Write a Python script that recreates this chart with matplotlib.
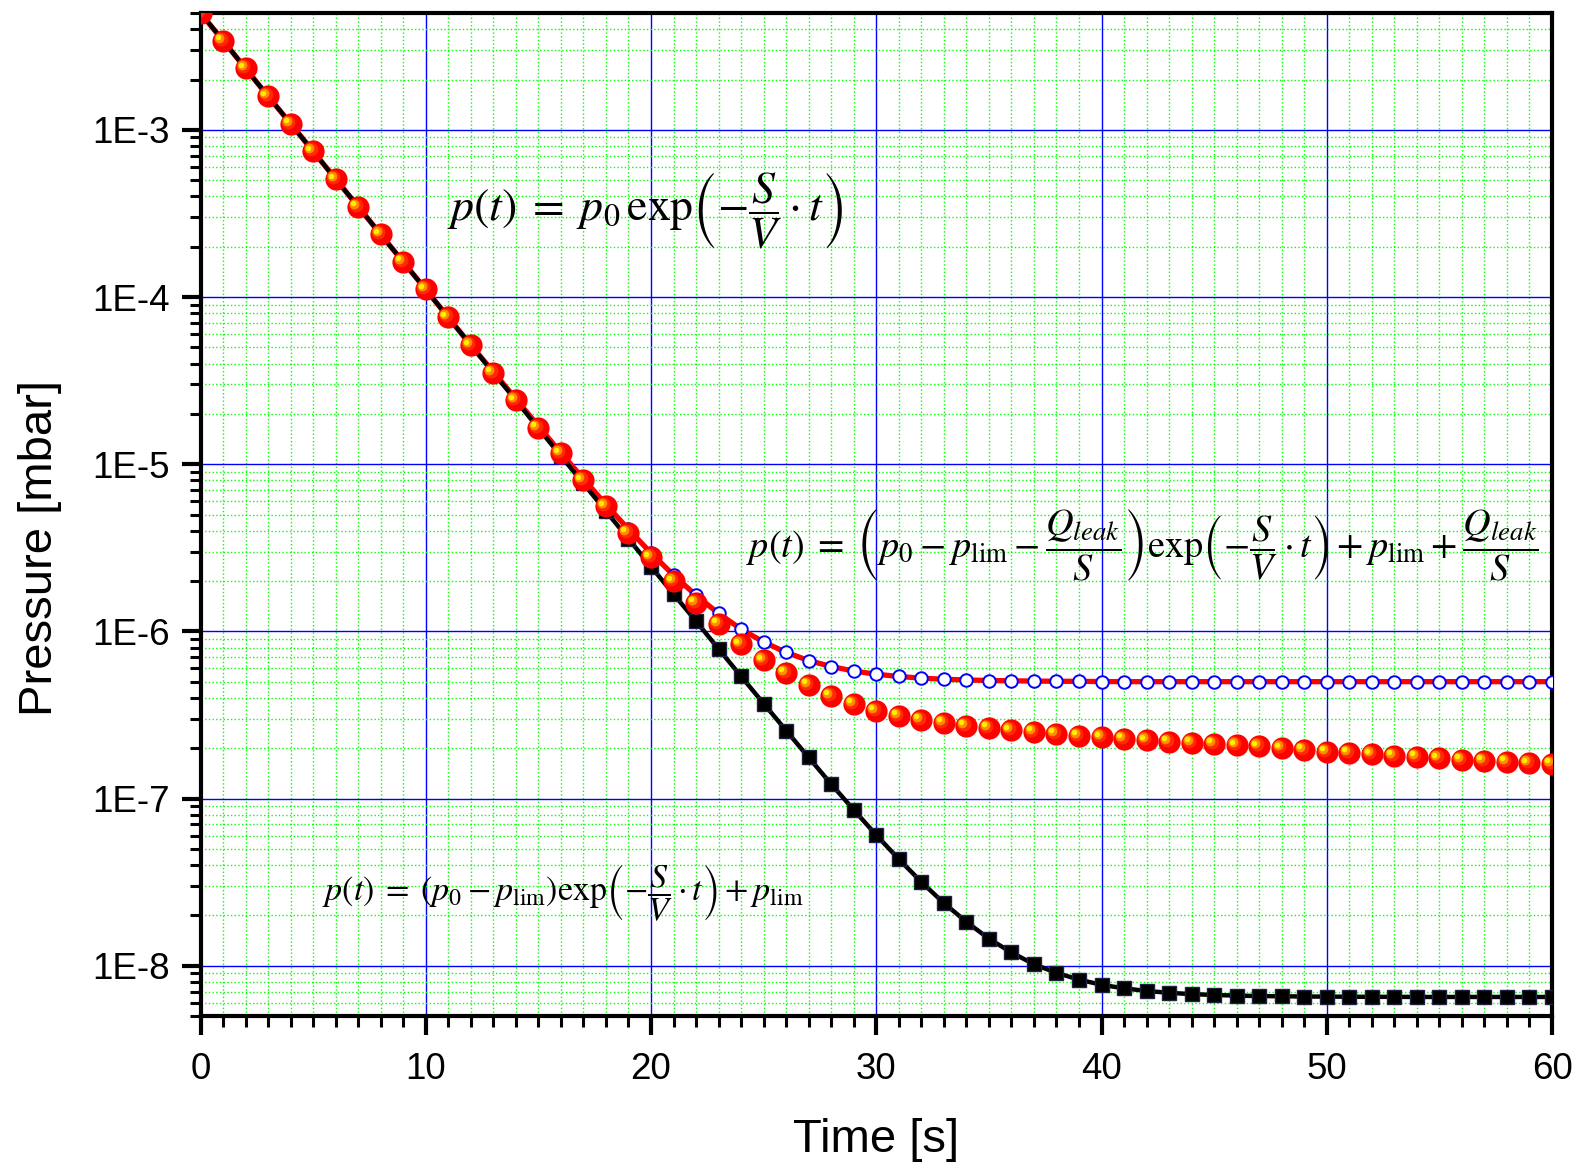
import numpy as np
import matplotlib
matplotlib.use('Agg')
import matplotlib.pyplot as plt
from matplotlib import ticker, transforms

plt.rcParams['font.family'] = ['Liberation Sans', 'DejaVu Sans']
plt.rcParams['mathtext.fontset'] = 'stix'

# tempo [s], um ponto por segundo
tempo = list(range(61))

# p0 exp(-S/V t) + p_lim  (quadrados pretos)
p_lim = [5.0e-3, 3.42e-3, 2.33e-3, 1.59e-3, 1.09e-3, 7.44e-4, 5.08e-4, 3.47e-4, 2.37e-4, 1.62e-4,
         1.11e-4, 7.55e-5, 5.16e-5, 3.52e-5, 2.41e-5, 1.64e-5, 1.12e-5, 7.67e-6, 5.23e-6, 3.58e-6,
         2.44e-6, 1.67e-6, 1.15e-6, 7.85e-7, 5.38e-7, 3.70e-7, 2.55e-7, 1.76e-7, 1.22e-7, 8.55e-8,
         6.05e-8, 4.34e-8, 3.17e-8, 2.37e-8, 1.83e-8, 1.45e-8, 1.20e-8, 1.02e-8, 9.06e-9, 8.25e-9,
         7.69e-9, 7.32e-9, 7.06e-9, 6.88e-9, 6.76e-9, 6.68e-9, 6.62e-9, 6.58e-9, 6.56e-9, 6.54e-9,
         6.53e-9, 6.52e-9, 6.51e-9, 6.51e-9, 6.50e-9, 6.50e-9, 6.50e-9, 6.50e-9, 6.50e-9, 6.50e-9,
         6.50e-9]

# com vazamento (circulos abertos + linha vermelha)
p_leak = [5.0e-3, 3.42e-3, 2.33e-3, 1.59e-3, 1.09e-3, 7.44e-4, 5.08e-4, 3.47e-4, 2.37e-4, 1.62e-4,
          1.11e-4, 7.55e-5, 5.16e-5, 3.57e-5, 2.46e-5, 1.69e-5, 1.17e-5, 8.17e-6, 5.73e-6, 4.08e-6,
          2.94e-6, 2.17e-6, 1.64e-6, 1.28e-6, 1.03e-6, 8.63e-7, 7.48e-7, 6.69e-7, 6.16e-7, 5.79e-7,
          5.54e-7, 5.37e-7, 5.25e-7, 5.17e-7, 5.12e-7, 5.08e-7, 5.06e-7, 5.04e-7, 5.03e-7, 5.02e-7,
          5.01e-7, 5.0e-7, 5.0e-7, 5.0e-7, 5.0e-7, 5.0e-7, 5.0e-7, 5.0e-7, 5.0e-7, 5.0e-7,
          5.0e-7, 5.0e-7, 5.0e-7, 5.0e-7, 5.0e-7, 5.0e-7, 5.0e-7, 5.0e-7, 5.0e-7, 5.0e-7,
          5.0e-7]

# medido (esferas vermelhas)
p_medido = [5.0e-3, 3.42e-3, 2.33e-3, 1.59e-3, 1.09e-3, 7.44e-4, 5.08e-4, 3.47e-4, 2.37e-4, 1.62e-4,
            1.11e-4, 7.55e-5, 5.16e-5, 3.52e-5, 2.41e-5, 1.65e-5, 1.16e-5, 8.0e-6, 5.6e-6, 3.9e-6,
            2.78e-6, 2.0e-6, 1.48e-6, 1.11e-6, 8.4e-7, 6.7e-7, 5.65e-7, 4.8e-7, 4.12e-7, 3.69e-7,
            3.35e-7, 3.13e-7, 2.96e-7, 2.84e-7, 2.73e-7, 2.65e-7, 2.56e-7, 2.5e-7, 2.44e-7, 2.38e-7,
            2.33e-7, 2.28e-7, 2.23e-7, 2.19e-7, 2.16e-7, 2.13e-7, 2.08e-7, 2.05e-7, 2.0e-7, 1.96e-7,
            1.91e-7, 1.88e-7, 1.84e-7, 1.8e-7, 1.78e-7, 1.74e-7, 1.71e-7, 1.68e-7, 1.66e-7, 1.63e-7,
            1.61e-7]

W, H = 1580, 1168
fig = plt.figure(figsize=(W / 100, H / 100), dpi=100)
ax = fig.add_axes([200.5 / W, 1 - 1016 / H, 1351.5 / W, 1003 / H])

ax.plot(tempo, p_leak, color='#ff0000', lw=3.8, zorder=2)
ax.plot(tempo, p_lim, color='black', lw=3.2, marker='s', ms=9.5, mfc='black', mec='#202040', zorder=3)
ax.plot(tempo, p_leak, ls='none', marker='o', ms=9, mfc='white', mec='#0000ff', mew=1.4, zorder=4)

# esferas: disco vermelho + brilho laranja/amarelo deslocado
camadas = [(16, '#ff0000', 0, 0), (10, '#ff2a00', -2.5, 2), (7, '#ff8c00', -4, 3), (4, '#ffee00', -5, 3.5)]
for tam, cor, dx, dy in camadas:
    tr = transforms.offset_copy(ax.transData, fig=fig, x=dx, y=dy, units='dots')
    ax.plot(tempo, p_medido, ls='none', marker='o', ms=tam, mfc=cor, mec='none', transform=tr, zorder=5)

ax.set_yscale('log')
ax.set_xlim(0, 60)
ax.set_ylim(5e-9, 5e-3)
ax.xaxis.set_major_locator(ticker.MultipleLocator(10))
ax.xaxis.set_minor_locator(ticker.MultipleLocator(1))
ax.yaxis.set_major_locator(ticker.LogLocator(base=10, numticks=20))
ax.yaxis.set_minor_locator(ticker.LogLocator(base=10, subs=np.arange(2, 10), numticks=20))
ax.yaxis.set_major_formatter(ticker.FuncFormatter(lambda v, pos: '1E%d' % round(np.log10(v))))
ax.yaxis.set_minor_formatter(ticker.NullFormatter())
ax.tick_params(which='major', direction='out', length=14, width=3, labelsize=26.5, pad=8)
ax.tick_params(axis='x', which='major', pad=12)
ax.tick_params(which='minor', direction='out', length=8, width=2.2)
ax.tick_params(top=False, right=False)
for s in ax.spines.values():
    s.set_linewidth(3)

ax.grid(which='minor', color='#00ff00', ls=':', lw=1)
ax.grid(which='major', color='#0000ff', ls='-', lw=1)
ax.set_axisbelow(True)

ax.set_xlabel('Time [s]', fontsize=34)
ax.set_ylabel('Pressure [mbar]', fontsize=34)
ax.xaxis.set_label_coords(0.5, -0.102)
ax.yaxis.set_label_coords(-0.1025, 0.467)

eq1 = r'$p(t)\;=\;p_0\,\mathrm{exp}\left(-\dfrac{S}{V}\cdot t\right)$'
eq2 = (r'$p(t)\;=\;\left(p_0 - p_{\mathrm{lim}} - \dfrac{Q_{leak}}{S}\right)\mathrm{exp}'
       r'\left(-\dfrac{S}{V}\cdot t\right) + p_{\mathrm{lim}} + \dfrac{Q_{leak}}{S}$')
eq3 = (r'$p(t)\;=\;\left(p_0 - p_{\mathrm{lim}}\right)\mathrm{exp}'
       r'\left(-\dfrac{S}{V}\cdot t\right) + p_{\mathrm{lim}}$')
fig.text(447 / W, 1 - 211 / H, eq1, fontsize=33, ha='left', va='center')
fig.text(746 / W, 1 - 545 / H, eq2, fontsize=27.5, ha='left', va='center')
fig.text(322 / W, 1 - 894 / H, eq3, fontsize=24.5, ha='left', va='center')

fig.savefig('out.png', dpi=100)
